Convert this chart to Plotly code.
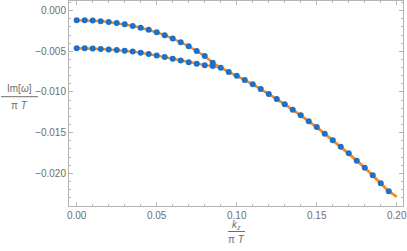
import plotly.graph_objects as go

# ---- data ----
k_branch = [0.000, 0.005, 0.010, 0.015, 0.020, 0.025, 0.030, 0.035, 0.040,
            0.045, 0.050, 0.055, 0.060, 0.065, 0.070, 0.075, 0.080, 0.085]
im_upper = [-0.00118, -0.00119, -0.00122, -0.00129, -0.00139, -0.00152, -0.00168,
            -0.00187, -0.00210, -0.00236, -0.00266, -0.00302, -0.00342, -0.00388,
            -0.00438, -0.00495, -0.00558, -0.00640]
im_lower = [-0.00462, -0.00462, -0.00466, -0.00471, -0.00476, -0.00483, -0.00492,
            -0.00503, -0.00516, -0.00532, -0.00551, -0.00571, -0.00591, -0.00612,
            -0.00633, -0.00653, -0.00670, -0.00680]
k_merged = [0.090, 0.095, 0.100, 0.105, 0.110, 0.115, 0.120, 0.125, 0.130, 0.135,
            0.140, 0.145, 0.150, 0.155, 0.160, 0.165, 0.170, 0.175, 0.180, 0.185,
            0.190, 0.195]
im_merged = [-0.00701, -0.00754, -0.00800, -0.00852, -0.00905, -0.00963, -0.01025,
             -0.01086, -0.01151, -0.01218, -0.01287, -0.01360, -0.01430, -0.01513,
             -0.01594, -0.01673, -0.01754, -0.01845, -0.01931, -0.02025, -0.02123,
             -0.02221]
k_fit_end = [0.200]
im_fit_end = [-0.02288]

x_tickvals = [0.00, 0.05, 0.10, 0.15, 0.20]
x_ticktext = ["0.00", "0.05", "0.10", "0.15", "0.20"]
y_tickvals = [0.000, -0.005, -0.010, -0.015, -0.020]
y_ticktext = ["0.000", "\u22120.005", "\u22120.010", "\u22120.015", "\u22120.020"]

BLUE = "#1f6fc2"
ORANGE = "#f88a1f"
FRAME = "#b4b4b4"
TXT = "#6e6e6e"
FONT = "Liberation Sans"

fig = go.Figure()
# fitted curves (orange), drawn beneath the points
for branch in (im_upper, im_lower):
    fig.add_trace(go.Scatter(
        x=k_branch + k_merged + k_fit_end,
        y=branch + im_merged + im_fit_end,
        mode="lines", line=dict(color=ORANGE, width=2.4),
        hoverinfo="skip", showlegend=False))
# data points (blue)
for ks, ys in ((k_branch, im_upper), (k_branch, im_lower), (k_merged, im_merged)):
    fig.add_trace(go.Scatter(
        x=ks, y=ys, mode="markers",
        marker=dict(color=BLUE, size=6, line=dict(width=0)),
        showlegend=False))

axis_common = dict(
    showline=True, linecolor=FRAME, linewidth=1, mirror="allticks",
    ticks="inside", tickcolor=FRAME, ticklen=4, tickwidth=1,
    showgrid=False, zeroline=False,
    tickfont=dict(family=FONT, size=10, color=TXT),
)
fig.update_xaxes(range=[-0.0048, 0.2039], tickvals=x_tickvals, ticktext=x_ticktext,
                 minor=dict(dtick=0.01, tick0=0, ticks="inside", ticklen=2,
                            tickcolor=FRAME, showgrid=False),
                 **axis_common)
fig.update_yaxes(range=[-0.02402, 0.00119], tickvals=y_tickvals, ticktext=y_ticktext,
                 minor=dict(dtick=0.001, tick0=0, ticks="inside", ticklen=2,
                            tickcolor=FRAME, showgrid=False),
                 **axis_common)

W, H = 407, 251
ML, MR, MT, MB = 69, 4, 1, 45
fig.update_layout(
    width=W, height=H,
    margin=dict(l=ML, r=MR, t=MT, b=MB, autoexpand=False),
    plot_bgcolor="white", paper_bgcolor="white",
)

def px(xp, yp):
    # convert page pixel to paper coords
    return (xp - ML) / (W - ML - MR), 1 - (yp - MT) / (H - MT - MB)

lab_font = dict(family=FONT, size=10, color=TXT)
anns = []
for text, xp, yp in (("Im[<i>\u03c9</i>]", 19.5, 88.5), ("\u03c0 <i>T</i>", 19.5, 105.5),
                     ("<i>k</i><sub><i>z</i></sub>", 236, 225), ("\u03c0 <i>T</i>", 236, 240)):
    xx, yy = px(xp, yp)
    anns.append(dict(text=text, x=xx, y=yy, xref="paper", yref="paper",
                     showarrow=False, xanchor="center", yanchor="middle",
                     font=lab_font))
fig.update_layout(annotations=anns)

shapes = []
for (x0, x1, yp) in ((1, 38, 96.7), (228, 245, 231.5)):
    a0, b0 = px(x0, yp)
    a1, _ = px(x1, yp)
    shapes.append(dict(type="line", xref="paper", yref="paper", x0=a0, x1=a1,
                       y0=b0, y1=b0, line=dict(color=TXT, width=1)))
fig.update_layout(shapes=shapes)

fig.write_html("out.html", config={"displayModeBar": False},
               post_script="document.body.style.margin='0';document.body.style.overflow='hidden';")
